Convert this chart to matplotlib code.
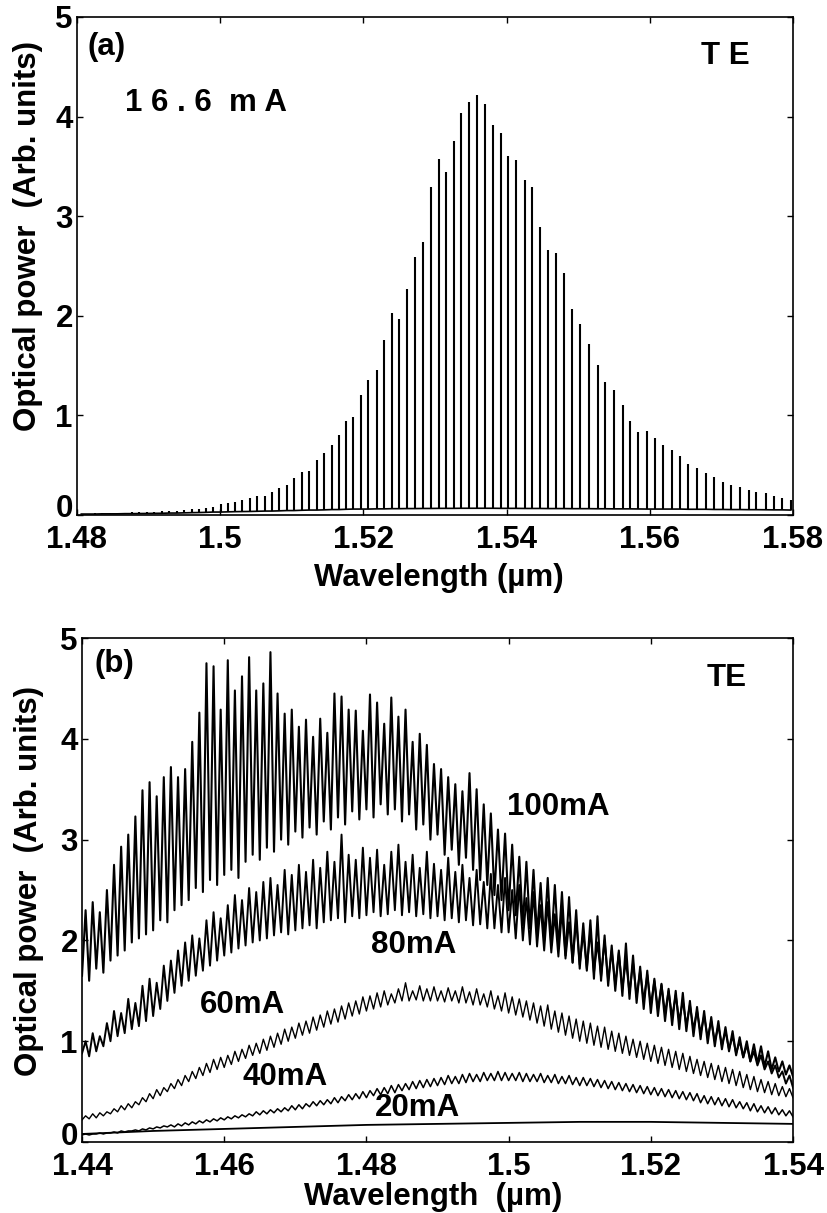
import numpy as np
import matplotlib
matplotlib.use("Agg")
import matplotlib.pyplot as plt
import matplotlib.transforms as mtransforms

plt.rcParams['font.family'] = ['Liberation Sans', 'DejaVu Sans']
plt.rcParams['font.weight'] = 'bold'

# ---------- panel (a): 16.6 mA, TE, longitudinal modes ----------
mode_wl_a = [1.4806, 1.4815, 1.4825, 1.4835, 1.4846, 1.4856, 1.4867, 1.4877, 1.4887, 1.4898,
             1.4908, 1.4919, 1.4929, 1.4939, 1.4950, 1.4960, 1.4970, 1.4980, 1.4990, 1.5001,
             1.5011, 1.5021, 1.5031, 1.5042, 1.5052, 1.5063, 1.5072, 1.5082, 1.5093, 1.5103,
             1.5114, 1.5124, 1.5135, 1.5145, 1.5156, 1.5166, 1.5176, 1.5186, 1.5197, 1.5207,
             1.5219, 1.5229, 1.5240, 1.5250, 1.5261, 1.5272, 1.5283, 1.5294, 1.5305, 1.5315,
             1.5327, 1.5337, 1.5348, 1.5358, 1.5370, 1.5381, 1.5392, 1.5402, 1.5413, 1.5425,
             1.5436, 1.5447, 1.5458, 1.5469, 1.5480, 1.5492, 1.5503, 1.5515, 1.5527, 1.5538,
             1.5550, 1.5562, 1.5573, 1.5584, 1.5596, 1.5607, 1.5619, 1.5631, 1.5642, 1.5654,
             1.5666, 1.5678, 1.5690, 1.5702, 1.5714, 1.5726, 1.5738, 1.5749, 1.5762, 1.5773,
             1.5785, 1.5797]
mode_peak_a = [0.015, 0.015, 0.018, 0.02,
               0.02, 0.025, 0.025, 0.03, 0.03, 0.035, 0.035, 0.04, 0.04, 0.045,
               0.05, 0.06, 0.065, 0.075, 0.08, 0.11, 0.12, 0.13, 0.15, 0.17,
               0.19, 0.19, 0.23, 0.27, 0.30, 0.37, 0.43, 0.44, 0.55, 0.62,
               0.70, 0.80, 0.94, 0.98, 1.21, 1.36, 1.46, 1.76, 2.03, 1.97,
               2.27, 2.59, 2.74, 3.29, 3.57, 3.44, 3.75, 4.04, 4.15, 4.22,
               4.13, 3.92, 3.84, 3.60, 3.56, 3.36, 3.29, 2.89, 2.66, 2.63,
               2.43, 2.07, 1.92, 1.72, 1.51, 1.34, 1.26, 1.10, 0.94, 0.83,
               0.84, 0.77, 0.70, 0.65, 0.59, 0.51, 0.47, 0.42, 0.38, 0.33,
               0.30, 0.28, 0.25, 0.23, 0.22, 0.19, 0.17, 0.15]
mode_base_a = [0.01, 0.01, 0.01, 0.012,
               0.012, 0.012, 0.014, 0.014, 0.015, 0.016, 0.017, 0.018, 0.02, 0.02,
               0.022, 0.024, 0.025, 0.027, 0.03, 0.03, 0.032, 0.034, 0.035, 0.036,
               0.038, 0.04, 0.04, 0.042, 0.045, 0.045, 0.048, 0.05, 0.05, 0.052,
               0.055, 0.055, 0.058, 0.06, 0.06, 0.06, 0.062, 0.062, 0.064, 0.064,
               0.065, 0.065, 0.066, 0.066, 0.067, 0.067, 0.067, 0.068, 0.068, 0.068,
               0.068, 0.068, 0.067, 0.067, 0.067, 0.066, 0.066, 0.066, 0.065, 0.065,
               0.065, 0.064, 0.064, 0.064, 0.063, 0.063, 0.062, 0.062, 0.062, 0.061,
               0.06, 0.06, 0.06, 0.06, 0.06, 0.058, 0.058, 0.058, 0.056, 0.056,
               0.055, 0.055, 0.054, 0.054, 0.053, 0.052, 0.052, 0.05]

xticks_a = [1.48, 1.50, 1.52, 1.54, 1.56, 1.58]
xticklabels_a = ["1.48", "1.5", "1.52", "1.54", "1.56", "1.58"]

# ---------- panel (b): TE spectra at several currents ----------
# troughs sit on 1.440, 1.441, ... 1.540 ; peaks sit half way between them
trough_100 = [1.65, 1.60, 1.72, 1.68, 1.80, 1.85, 1.90, 1.98, 2.02, 2.06,
              2.10, 2.20, 2.18, 2.30, 2.35, 2.40, 2.52, 2.48, 2.60, 2.55,
              2.65, 2.70, 2.62, 2.78, 2.85, 2.80, 2.92, 2.88, 3.00, 2.95,
              3.08, 3.02, 3.12, 3.05, 3.18, 3.10, 3.22, 3.15, 3.28, 3.20,
              3.30, 3.22, 3.35, 3.25, 3.30, 3.18, 3.25, 3.10, 3.15, 3.00,
              3.05, 2.85, 2.90, 2.75, 2.82, 2.70, 2.60, 2.55, 2.45, 2.40,
              2.30, 2.25, 2.15, 2.12, 2.05, 2.00, 1.95, 1.92, 1.85, 1.78,
              1.72, 1.70, 1.62, 1.60, 1.55, 1.50, 1.45, 1.42, 1.38, 1.32,
              1.28, 1.25, 1.20, 1.16, 1.12, 1.10, 1.05, 1.02, 0.98, 0.95,
              0.92, 0.90, 0.86, 0.84, 0.80, 0.78, 0.75, 0.72, 0.70, 0.67, 0.65]
peak_100 = [2.30, 2.38, 2.28, 2.50, 2.75, 2.93, 3.05, 3.23, 3.49, 3.57,
            3.43, 3.62, 3.72, 3.62, 3.70, 3.97, 4.26, 4.75, 4.72, 4.29,
            4.78, 4.48, 4.62, 4.81, 4.48, 4.55, 4.86, 4.45, 4.25, 4.29,
            4.12, 4.19, 4.02, 4.20, 4.06, 4.45, 4.42, 4.29, 4.28, 4.08,
            4.44, 4.36, 4.15, 4.41, 4.22, 4.29, 3.97, 4.05, 3.94, 3.75,
            3.70, 3.62, 3.55, 3.48, 3.66, 3.50, 3.35, 3.26, 3.10, 3.06,
            2.95, 2.83, 2.78, 2.70, 2.57, 2.62, 2.55, 2.48, 2.43, 2.30,
            2.17, 2.20, 2.24, 2.05, 1.95, 1.90, 1.97, 1.85, 1.74, 1.70,
            1.62, 1.57, 1.52, 1.50, 1.48, 1.40, 1.34, 1.30, 1.24, 1.20,
            1.14, 1.10, 1.04, 1.00, 0.97, 0.95, 0.90, 0.84, 0.80, 0.76]

trough_80 = [0.88, 0.85, 0.90, 0.95, 1.00, 1.05, 1.08, 1.12, 1.15, 1.20,
             1.25, 1.32, 1.40, 1.48, 1.55, 1.60, 1.65, 1.70, 1.75, 1.80,
             1.85, 1.88, 1.92, 1.95, 1.98, 2.00, 2.02, 2.05, 2.08, 2.06,
             2.10, 2.12, 2.15, 2.12, 2.18, 2.20, 2.22, 2.18, 2.24, 2.22,
             2.25, 2.28, 2.24, 2.26, 2.30, 2.25, 2.28, 2.24, 2.26, 2.22,
             2.24, 2.20, 2.22, 2.18, 2.20, 2.15, 2.16, 2.12, 2.12, 2.08,
             2.08, 2.02, 2.00, 1.96, 1.94, 1.90, 1.88, 1.84, 1.82, 1.78,
             1.76, 1.72, 1.68, 1.64, 1.60, 1.56, 1.52, 1.48, 1.44, 1.40,
             1.36, 1.32, 1.28, 1.24, 1.20, 1.16, 1.12, 1.08, 1.04, 1.00,
             0.96, 0.92, 0.88, 0.84, 0.80, 0.76, 0.72, 0.68, 0.64, 0.58, 0.54]
peak_80 = [1.00, 1.08, 1.05, 1.18, 1.30, 1.28, 1.42, 1.38, 1.55, 1.62,
           1.58, 1.75, 1.80, 1.90, 1.98, 2.05, 2.02, 2.20, 2.28, 2.22,
           2.35, 2.45, 2.40, 2.52, 2.48, 2.58, 2.62, 2.55, 2.70, 2.65,
           2.75, 2.68, 2.80, 2.72, 2.88, 2.78, 3.05, 2.85, 2.80, 2.92,
           2.82, 2.90, 2.75, 2.88, 2.95, 2.78, 2.85, 2.72, 2.88, 2.76,
           2.70, 2.82, 2.68, 2.75, 2.62, 2.70, 2.58, 2.66, 2.55, 2.62,
           2.50, 2.55, 2.42, 2.48, 2.35, 2.38, 2.26, 2.30, 2.18, 2.20,
           2.08, 2.10, 1.98, 2.00, 1.90, 1.88, 1.80, 1.78, 1.70, 1.66,
           1.60, 1.56, 1.50, 1.46, 1.40, 1.36, 1.30, 1.25, 1.20, 1.15,
           1.10, 1.05, 1.00, 0.96, 0.90, 0.86, 0.80, 0.76, 0.70, 0.66]

trough_60 = [0.22, 0.23, 0.24, 0.26, 0.28, 0.30, 0.32, 0.34, 0.37, 0.40,
             0.43, 0.46, 0.50, 0.53, 0.56, 0.60, 0.63, 0.66, 0.69, 0.72,
             0.74, 0.77, 0.80, 0.83, 0.86, 0.88, 0.91, 0.94, 0.97, 1.00,
             1.03, 1.06, 1.08, 1.11, 1.14, 1.17, 1.19, 1.22, 1.25, 1.27,
             1.30, 1.32, 1.34, 1.36, 1.38, 1.40, 1.40, 1.41, 1.40, 1.40,
             1.40, 1.39, 1.40, 1.38, 1.38, 1.36, 1.36, 1.34, 1.32, 1.30,
             1.28, 1.26, 1.24, 1.21, 1.18, 1.15, 1.12, 1.09, 1.06, 1.03,
             1.00, 0.98, 0.96, 0.94, 0.92, 0.90, 0.88, 0.86, 0.84, 0.82,
             0.80, 0.78, 0.76, 0.74, 0.72, 0.70, 0.68, 0.66, 0.64, 0.62,
             0.60, 0.58, 0.56, 0.54, 0.52, 0.50, 0.49, 0.47, 0.46, 0.45, 0.44]
peak_60 = [0.26, 0.28, 0.29, 0.30, 0.33, 0.36, 0.38, 0.40, 0.44, 0.48,
           0.52, 0.54, 0.58, 0.62, 0.66, 0.70, 0.74, 0.78, 0.82, 0.84,
           0.86, 0.90, 0.92, 0.96, 0.98, 1.02, 1.05, 1.08, 1.12, 1.14,
           1.18, 1.20, 1.24, 1.26, 1.30, 1.32, 1.35, 1.38, 1.40, 1.44,
           1.45, 1.48, 1.50, 1.47, 1.52, 1.58, 1.50, 1.55, 1.52, 1.54,
           1.50, 1.53, 1.50, 1.54, 1.49, 1.52, 1.47, 1.50, 1.45, 1.48,
           1.44, 1.42, 1.40, 1.38, 1.35, 1.36, 1.30, 1.28, 1.25, 1.22,
           1.20, 1.18, 1.15, 1.14, 1.10, 1.08, 1.05, 1.02, 1.00, 0.98,
           0.96, 0.94, 0.92, 0.90, 0.88, 0.85, 0.82, 0.80, 0.78, 0.76,
           0.74, 0.72, 0.70, 0.67, 0.65, 0.62, 0.60, 0.58, 0.55, 0.53]

trough_40 = [0.07, 0.07, 0.08, 0.08, 0.09, 0.09, 0.10, 0.11, 0.11, 0.12,
             0.13, 0.14, 0.15, 0.15, 0.16, 0.17, 0.18, 0.19, 0.20, 0.21,
             0.22, 0.23, 0.24, 0.25, 0.26, 0.27, 0.28, 0.29, 0.30, 0.31,
             0.32, 0.33, 0.35, 0.36, 0.37, 0.38, 0.39, 0.41, 0.42, 0.43,
             0.44, 0.46, 0.47, 0.48, 0.49, 0.51, 0.52, 0.53, 0.54, 0.55,
             0.56, 0.57, 0.58, 0.58, 0.59, 0.60, 0.60, 0.61, 0.61, 0.61,
             0.61, 0.61, 0.60, 0.60, 0.60, 0.59, 0.59, 0.58, 0.58, 0.57,
             0.56, 0.56, 0.55, 0.54, 0.53, 0.52, 0.51, 0.50, 0.49, 0.48,
             0.47, 0.46, 0.45, 0.44, 0.43, 0.42, 0.41, 0.39, 0.38, 0.37,
             0.36, 0.35, 0.34, 0.33, 0.31, 0.30, 0.29, 0.28, 0.27, 0.26, 0.25]
peak_40 = [0.08, 0.08, 0.09, 0.09, 0.10, 0.11, 0.11, 0.12, 0.13, 0.14,
           0.15, 0.16, 0.17, 0.18, 0.19, 0.20, 0.21, 0.22, 0.23, 0.24,
           0.25, 0.26, 0.27, 0.28, 0.30, 0.31, 0.32, 0.33, 0.34, 0.36,
           0.37, 0.38, 0.40, 0.41, 0.42, 0.44, 0.45, 0.47, 0.48, 0.50,
           0.51, 0.53, 0.54, 0.56, 0.57, 0.58, 0.60, 0.61, 0.62, 0.63,
           0.64, 0.66, 0.65, 0.67, 0.68, 0.67, 0.69, 0.68, 0.70, 0.69,
           0.68, 0.69, 0.68, 0.67, 0.68, 0.66, 0.67, 0.65, 0.66, 0.64,
           0.64, 0.63, 0.62, 0.61, 0.60, 0.59, 0.58, 0.57, 0.56, 0.55,
           0.54, 0.53, 0.52, 0.51, 0.50, 0.49, 0.48, 0.46, 0.45, 0.44,
           0.43, 0.42, 0.40, 0.39, 0.38, 0.36, 0.35, 0.34, 0.32, 0.31]

wl_20 = [1.44, 1.45, 1.46, 1.47, 1.48, 1.49, 1.50, 1.51, 1.52, 1.53, 1.54]
power_20 = [0.08, 0.11, 0.13, 0.15, 0.17, 0.18, 0.19, 0.20, 0.20, 0.19, 0.18]

xticks_b = [1.44, 1.46, 1.48, 1.50, 1.52, 1.54]
xticklabels_b = ["1.44", "1.46", "1.48", "1.5", "1.52", "1.54"]
yticks = [0, 1, 2, 3, 4, 5]

FS = 22.5


def zigzag(troughs, peaks):
    y = np.empty(len(troughs) + len(peaks))
    y[0::2] = troughs
    y[1::2] = peaks
    return y


def style_axes(ax, xticks, xlabels, xpad, zero_shift):
    ax.set_ylim(0, 5)
    ax.set_xticks(xticks)
    ax.set_xticklabels(xlabels)
    ax.set_yticks(yticks)
    ax.tick_params(direction='in', length=4, width=1.0, top=True, right=True,
                   labelsize=FS)
    ax.tick_params(axis='x', pad=xpad)
    ax.tick_params(axis='y', pad=3)
    for s in ax.spines.values():
        s.set_linewidth(1.2)
    # the "0" sits a little higher than its tick in the original
    lab0 = ax.get_yticklabels()[0]
    lab0.set_transform(lab0.get_transform() +
                       mtransforms.ScaledTranslation(0, zero_shift / 72, fig.dpi_scale_trans))


fig = plt.figure(figsize=(8.27, 12.13), dpi=100)

# ---- (a)
ax1 = fig.add_axes([0.0931, 0.5754, 0.8658, 0.4106])
ax1.vlines(mode_wl_a, mode_base_a, mode_peak_a, colors='black', lw=1.5)
ax1.plot(mode_wl_a, mode_base_a, color='black', lw=1.2)
ax1.set_xlim(1.48, 1.58)
style_axes(ax1, xticks_a, xticklabels_a, 7, 7)
ax1.set_xlabel("Wavelength (µm)", fontsize=FS, fontweight='bold')
ax1.xaxis.set_label_coords(0.505, -0.097)
ax1.set_ylabel("Optical power  (Arb. units)", fontsize=FS, fontweight='bold')
ax1.yaxis.set_label_coords(-0.048, 0.56)
ax1.text(1.4815, 4.70, "(a)", fontsize=FS, fontweight='bold', va='center')
ax1.text(1.4867, 4.14, "1 6 . 6  m A", fontsize=FS, fontweight='bold', va='center')
ax1.text(1.5706, 4.61, "T E", fontsize=FS, fontweight='bold', va='center', ha='center')

# ---- (b)
ax2 = fig.add_axes([0.0992, 0.0585, 0.8597, 0.4155])
wl_b = np.linspace(1.44, 1.54, 201)
ax2.plot(wl_b, zigzag(trough_100, peak_100), color='black', lw=1.5)
ax2.plot(wl_b, zigzag(trough_80, peak_80), color='black', lw=1.4)
ax2.plot(wl_b, zigzag(trough_60, peak_60), color='black', lw=1.0)
ax2.plot(wl_b, zigzag(trough_40, peak_40), color='black', lw=1.1)
ax2.plot(wl_20, power_20, color='black', lw=1.3)
ax2.set_xlim(1.44, 1.54)
style_axes(ax2, xticks_b, xticklabels_b, 7, 6)
ax2.set_xlabel("Wavelength  (µm)", fontsize=FS, fontweight='bold')
ax2.xaxis.set_label_coords(0.494, -0.079)
ax2.set_ylabel("Optical power  (Arb. units)", fontsize=FS, fontweight='bold')
ax2.yaxis.set_label_coords(-0.054, 0.518)
ax2.text(1.4418, 4.74, "(b)", fontsize=FS, fontweight='bold', va='center')
ax2.text(1.5306, 4.60, "TE", fontsize=FS, fontweight='bold', va='center', ha='center')
ax2.text(1.4998, 3.32, "100mA", fontsize=FS, fontweight='bold', va='center')
ax2.text(1.4807, 1.95, "80mA", fontsize=FS, fontweight='bold', va='center')
ax2.text(1.4566, 1.36, "60mA", fontsize=FS, fontweight='bold', va='center')
ax2.text(1.4625, 0.65, "40mA", fontsize=FS, fontweight='bold', va='center')
ax2.text(1.4812, 0.34, "20mA", fontsize=FS, fontweight='bold', va='center')

fig.savefig("out.png", dpi=100)
